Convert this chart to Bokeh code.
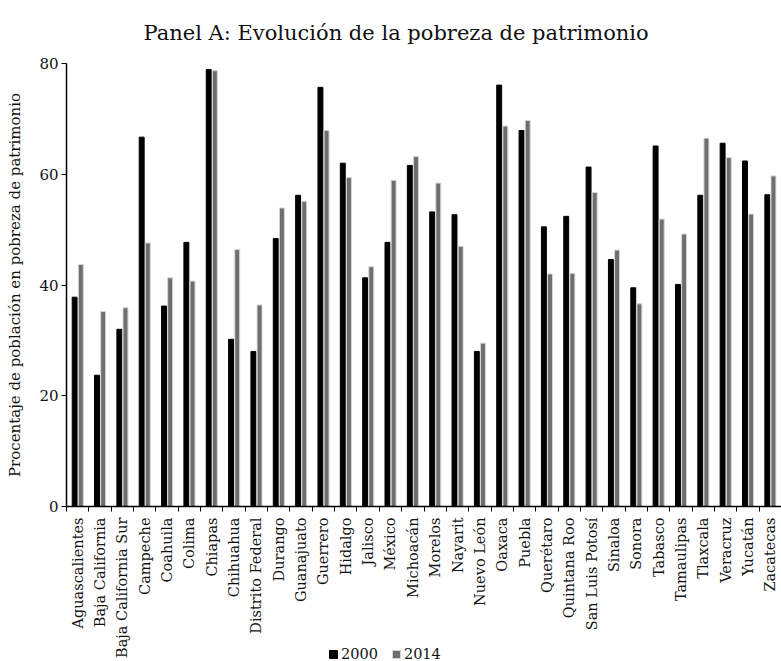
import math
import numpy as np
from bokeh.plotting import figure
from bokeh.layouts import column
from bokeh.models import (ColumnDataSource, Range1d, FixedTicker, Legend, LegendItem)
from bokeh.transform import dodge
from bokeh.embed import file_html
from bokeh.resources import INLINE

states = ["Aguascalientes", "Baja California", "Baja California Sur", "Campeche",
          "Coahuila", "Colima", "Chiapas", "Chihuahua", "Distrito Federal", "Durango",
          "Guanajuato", "Guerrero", "Hidalgo", "Jalisco", "México", "Michoacán",
          "Morelos", "Nayarit", "Nuevo León", "Oaxaca", "Puebla", "Querétaro",
          "Quintana Roo", "San Luis Potosí", "Sinaloa", "Sonora", "Tabasco",
          "Tamaulipas", "Tlaxcala", "Veracruz", "Yucatán", "Zacatecas"]
v2000 = [37.8, 23.7, 32.0, 66.7, 36.2, 47.7, 78.9, 30.2, 28.0, 48.4,
         56.2, 75.7, 62.0, 41.3, 47.7, 61.6, 53.2, 52.7, 28.0, 76.1,
         67.9, 50.5, 52.4, 61.3, 44.6, 39.5, 65.1, 40.1, 56.2, 65.6, 62.4, 56.3]
v2014 = [43.7, 35.2, 35.9, 47.6, 41.3, 40.7, 78.7, 46.4, 36.4, 53.9,
         55.1, 67.9, 59.4, 43.3, 58.9, 63.2, 58.4, 47.0, 29.5, 68.7,
         69.7, 42.0, 42.1, 56.7, 46.3, 36.6, 51.9, 49.2, 66.5, 63.0, 52.8, 59.7]
y_ticks = [0, 20, 40, 60, 80]
series_labels = ["2000", "2014"]
series_colors = ["#000000", "#6e6e6e"]
series_edges = ["#000000", "#d4d4d4"]

FONT = "DejaVu Serif"
n = len(states)
centers = np.arange(n) + 0.5
src = ColumnDataSource(dict(x=centers, a=v2000, b=v2014))

p = figure(width=781, height=661, output_backend="svg", toolbar_location=None,
           x_range=Range1d(0, n), y_range=Range1d(0, 80),
           title="Panel A: Evolución de la pobreza de patrimonio")
p.min_border_left = 66
p.min_border_right = 0
p.min_border_top = 63
p.min_border_bottom = 154
p.outline_line_color = None
p.grid.grid_line_color = None
p.background_fill_color = "white"

p.title.text_font = FONT
p.title.text_font_size = "21px"
p.title.text_font_style = "normal"
p.title.align = "left"
p.title.offset = 77
p.title.vertical_align = "top"
p.title.standoff = 34
p.title.text_color = "#111111"

p.vbar(x=dodge("x", -0.135), top="a", width=0.22, source=src,
       fill_color=series_colors[0], line_color=series_edges[0], line_width=1)
p.vbar(x=dodge("x", 0.14), top="b", width=0.22, source=src,
       fill_color=series_colors[1], line_color=series_edges[1], line_width=1)

xa = p.xaxis[0]
xa.ticker = FixedTicker(ticks=list(centers), minor_ticks=list(range(n + 1)))
xa.major_label_overrides = {float(c): s for c, s in zip(centers, states)}
xa.major_tick_line_color = None
xa.major_tick_in = 0
xa.major_tick_out = 0
xa.minor_tick_in = 0
xa.minor_tick_out = 5
xa.minor_tick_line_color = "#000000"
xa.major_label_orientation = math.pi / 2
xa.major_label_text_font = FONT
xa.major_label_text_font_size = "14.5px"
xa.major_label_text_color = "#111111"
xa.axis_line_color = "#000000"
xa.axis_line_width = 1.5
xa.major_label_standoff = 6

ya = p.yaxis[0]
ya.ticker = FixedTicker(ticks=y_ticks)
ya.major_tick_in = 0
ya.major_tick_out = 5
ya.minor_tick_line_color = None
ya.major_label_text_font = FONT
ya.major_label_text_font_size = "15px"
ya.major_label_text_color = "#111111"
ya.major_label_standoff = 3
ya.axis_label = "Procentaje de población en pobreza de patrimonio"
ya.axis_label_text_font = FONT
ya.axis_label_text_font_size = "15px"
ya.axis_label_text_font_style = "normal"
ya.axis_label_text_color = "#111111"
ya.axis_label_standoff = 12
ya.axis_line_color = "#000000"
ya.axis_line_width = 1.5

# legend strip, overlapping the bottom of the chart (transparent)
lp = figure(width=781, height=20, output_backend="svg", toolbar_location=None,
            x_range=Range1d(0, 1), y_range=Range1d(0, 1), min_border=0)
lp.axis.visible = False
lp.grid.visible = False
lp.outline_line_color = None
lp.background_fill_alpha = 0
lp.border_fill_alpha = 0
lp.margin = (-20, 0, 0, 0)
items = []
for lab, col, edge in zip(series_labels, series_colors, series_edges):
    rr = lp.vbar(x=[50], top=[50], width=0.1, fill_color=col, line_color=edge)
    items.append(LegendItem(label=lab, renderers=[rr]))
legend = Legend(items=items, orientation="horizontal", location=(262, -1))
legend.border_line_color = None
legend.background_fill_alpha = 0
legend.padding = 0
legend.margin = 0
legend.glyph_width = 10
legend.glyph_height = 10
legend.label_height = 12
legend.label_standoff = 3
legend.spacing = 13
legend.label_text_font = FONT
legend.label_text_font_size = "14.5px"
legend.label_text_color = "#111111"
lp.add_layout(legend, "center")

layout = column(p, lp, spacing=0)
open("out.html", "w").write(file_html(layout, INLINE))
